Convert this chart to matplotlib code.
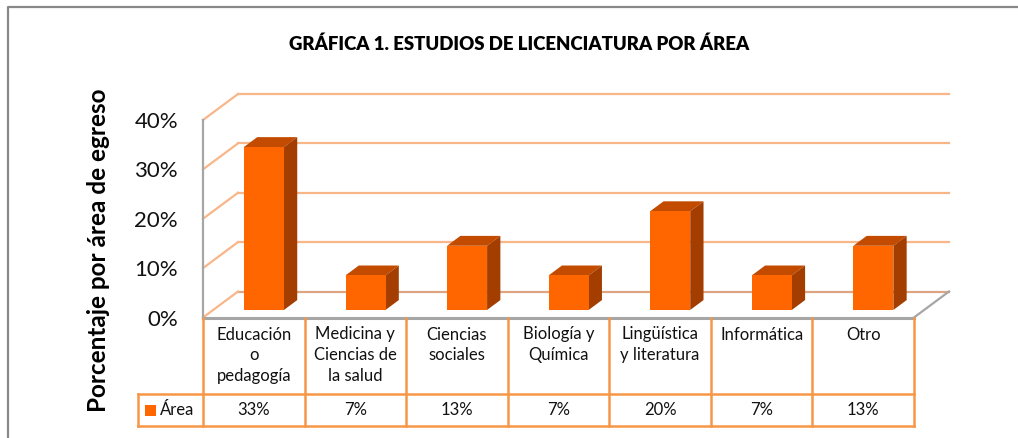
import matplotlib
matplotlib.use('Agg')
import matplotlib.pyplot as plt
from matplotlib.patches import Polygon, Rectangle
from matplotlib.lines import Line2D

# data
categories = ["Educación\no\npedagogía", "Medicina y\nCiencias de\nla salud", "Ciencias\nsociales",
              "Biología y\nQuímica", "Lingüística\ny literatura", "Informática", "Otro"]
values = [33, 7, 13, 7, 20, 7, 13]
yticks = [0, 10, 20, 30, 40]
series_name = "Área"
title = "GRÁFICA 1. ESTUDIOS DE LICENCIATURA POR ÁREA"
ylabel = "Porcentaje por área de egreso"

front_c = '#FF6600'
top_c = '#C24B00'
side_c = '#A33E00'
grid_c = '#F9B688'
table_c = '#F79646'
axis_c = '#A6A6A6'

W, H = 1018, 438
fig = plt.figure(figsize=(W / 100, H / 100), dpi=100)
plt.rcParams['font.family'] = ['Lato', 'DejaVu Sans']


def fx(px):
    return px / W


def fy(py):
    return 1 - py / H


# plot area (front plane)
left, right, top, floor = 203, 914, 120, 317.5
n = len(values)
ax = fig.add_axes([fx(left), fy(floor), (right - left) / W, (floor - top) / H])
ax.set_xlim(-0.5, n - 0.5)
ax.set_ylim(yticks[0], yticks[-1])
ux = (right - left) / n
uy = (floor - top) / (yticks[-1] - yticks[0])
DX = 35 / ux
DY = 26 / uy

for s in ax.spines.values():
    s.set_visible(False)
ax.set_xticks([])
ax.set_yticks(yticks, labels=[f"{t}%" for t in yticks])
ax.tick_params(axis='y', length=0, pad=18, labelsize=16, labelcolor='#111111')
ax.patch.set_visible(False)

# walls
for t in yticks:
    c = '#DDA581' if t == 0 else grid_c
    ax.plot([-0.5 + DX, n - 0.5 + DX], [t + DY, t + DY], color=c, lw=1.6, clip_on=False, zorder=1)
    ax.plot([-0.5, -0.5 + DX], [t, t + DY], color=grid_c, lw=1.6, clip_on=False, zorder=1)
ax.plot([-0.5, -0.5], [0, yticks[-1]], color=axis_c, lw=1.6, clip_on=False, zorder=2)
ax.plot([-0.5, n - 0.5], [0, 0], color=axis_c, lw=2.2, clip_on=False, zorder=2)
ax.plot([n - 0.5, n - 0.5 + DX], [0, DY], color=axis_c, lw=1.6, clip_on=False, zorder=2)

# 3d bars
f0, depth, w = 0.29, 0.38, 40 / ux
base = f0 * DY
centers = [i + f0 * DX for i in range(n)]
ax.bar(centers, values, width=w, bottom=base, color=front_c, zorder=4, clip_on=False)
for c, v in zip(centers, values):
    x0, x1, yb, yt = c - w / 2, c + w / 2, base, base + v
    ax.add_patch(Polygon([(x0, yt), (x1, yt), (x1 + depth * DX, yt + depth * DY),
                          (x0 + depth * DX, yt + depth * DY)], closed=True,
                         facecolor=top_c, edgecolor='none', zorder=3, clip_on=False))
    ax.add_patch(Polygon([(x1, yb), (x1 + depth * DX, yb + depth * DY),
                          (x1 + depth * DX, yt + depth * DY), (x1, yt)], closed=True,
                         facecolor=side_c, edgecolor='none', zorder=3, clip_on=False))

# data table
tbot = 426
tax = fig.add_axes([fx(138), fy(tbot), (right - 138) / W, (tbot - floor) / H])
lcol = -(left - 138) / ux
tax.set_xlim(lcol, n)
tax.set_ylim(0, 1)
tax.axis('off')
split = 32 / (tbot - floor)
tax.plot([lcol, n], [split, split], color=table_c, lw=1.8, clip_on=False)
tax.plot([lcol, n], [0, 0], color=table_c, lw=1.8, clip_on=False)
tax.plot([lcol, lcol], [0, split], color=table_c, lw=1.8, clip_on=False)
for i in range(n + 1):
    tax.plot([i, i], [0, 1], color=table_c, lw=1.8, clip_on=False)
for i, (cat, v) in enumerate(zip(categories, values)):
    tax.text(i + 0.5, 1 - 9 / (tbot - floor), cat, ha='center', va='top', fontsize=12,
             linespacing=1.38, color='#111111')
    tax.text(i + 0.5, split / 2, f"{v}%", ha='center', va='center', fontsize=12, color='#111111')
tax.add_patch(Rectangle((lcol + 7 / ux, split / 2 - 5.5 / (tbot - floor)), 11 / ux,
                        11 / (tbot - floor), facecolor=front_c, edgecolor='none'))
tax.text(lcol + 22 / ux, split / 2, series_name, ha='left', va='center', fontsize=12, color='#111111')

# titles
fig.text(fx(519), fy(44), title, ha='center', va='center', fontsize=13.4, fontweight='heavy',
         color='#000000')
fig.text(fx(99), fy(250), ylabel, ha='center', va='center', rotation=90, fontsize=17.5,
         fontweight='bold', color='#000000')

# chart border
fig.add_artist(Line2D([fx(8), fx(8), 1], [0, fy(7), fy(7)], transform=fig.transFigure,
                      color='#888888', lw=1.6))

fig.savefig('out.png', dpi=100)
